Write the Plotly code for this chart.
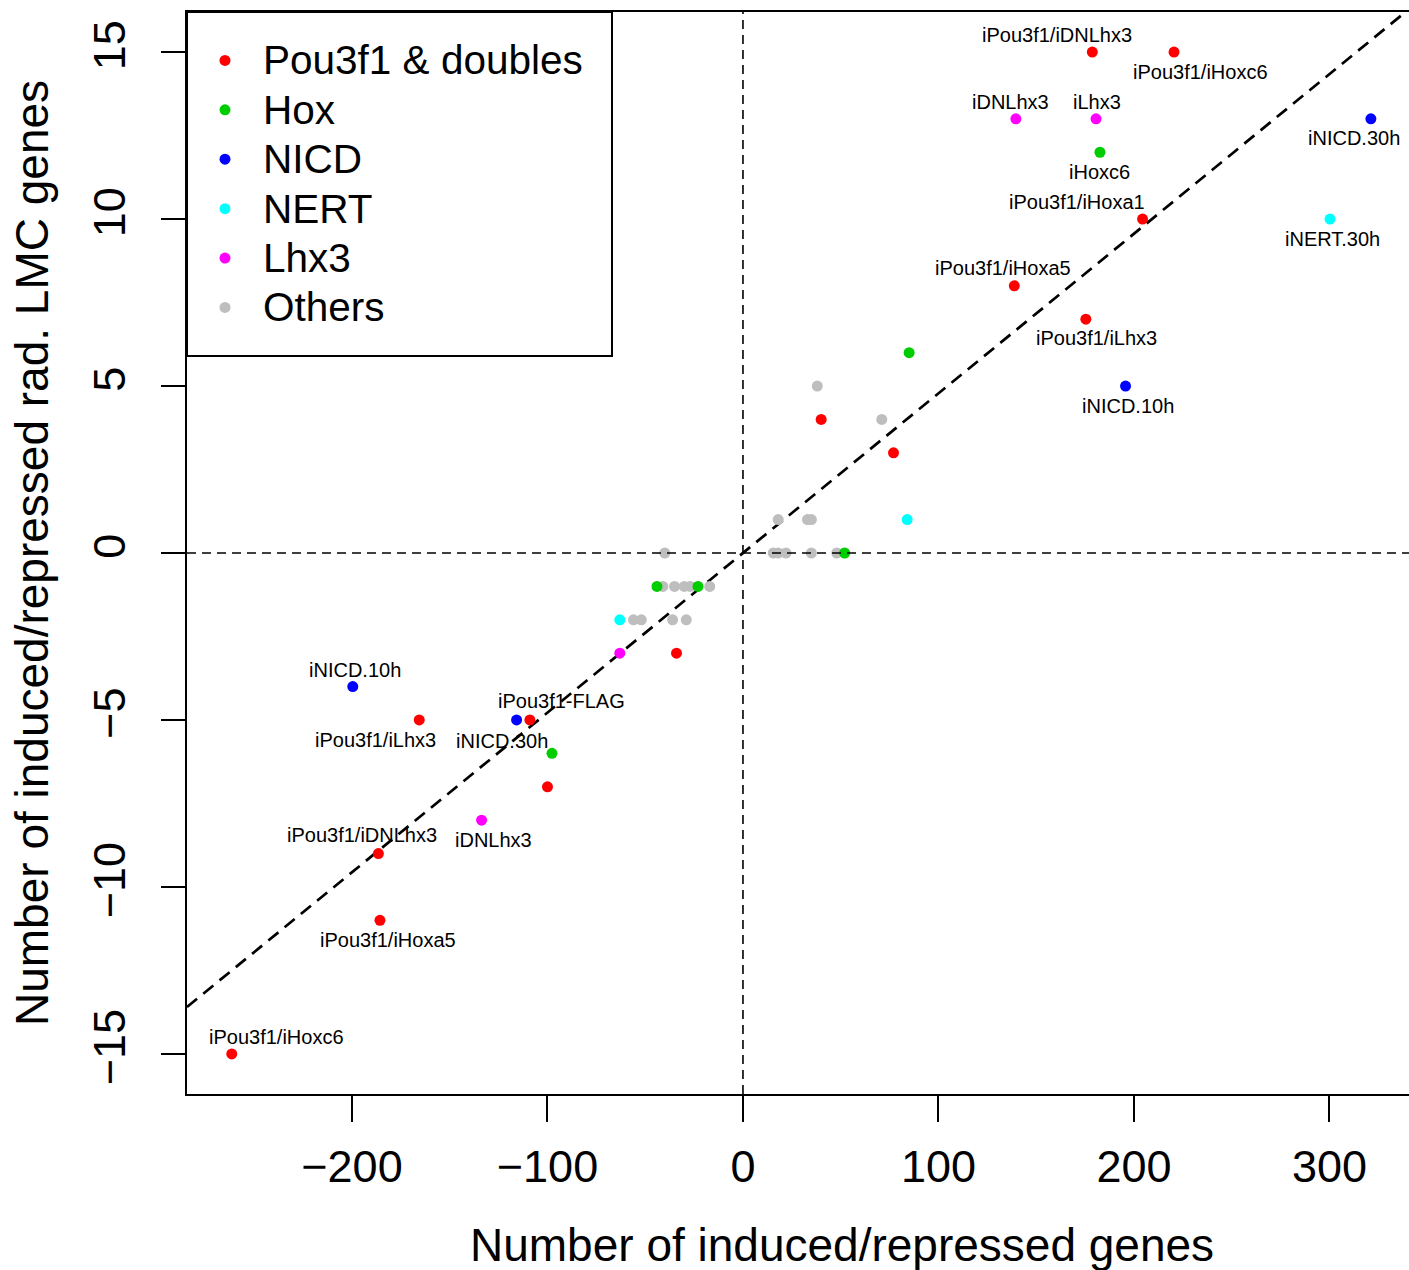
import plotly.graph_objects as go

# ---- data ----
pou_x = [220.5, 178.7, 204.4, 138.8, 175.4, 40, 77, -34, -109, -165.6, -100, -186.5, -185.7, -261.5]
pou_y = [15, 15, 10, 8, 7, 4, 3, -3, -5, -5, -7, -9, -11, -15]
hox_x = [182.6, 85, 52, -44, -23, -97.7]
hox_y = [12, 6, 0, -1, -1, -6]
nicd_x = [321.2, 195.7, -199.6, -115.8]
nicd_y = [13, 5, -4, -5]
nert_x = [300.3, 84, -63]
nert_y = [10, 1, -2]
lhx_x = [139.6, 180.6, -63, -133.7]
lhx_y = [13, 13, -3, -8]
oth_x = [38, 71, 18, 33, 35, -40, 15.5, 18, 22, 35, 48, -41, -35, -30, -27, -17, -56, -52, -36, -29]
oth_y = [5, 4, 1, 1, 1, 0, 0, 0, 0, 0, 0, -1, -1, -1, -1, -1, -2, -2, -2, -2]

label_text = ["iPou3f1/iDNLhx3", "iPou3f1/iHoxc6", "iDNLhx3", "iLhx3", "iHoxc6", "iNICD.30h",
              "iPou3f1/iHoxa1", "iNERT.30h", "iPou3f1/iHoxa5", "iPou3f1/iLhx3", "iNICD.10h",
              "iPou3f1-FLAG", "iNICD.30h", "iNICD.10h", "iPou3f1/iLhx3", "iPou3f1/iDNLhx3",
              "iPou3f1/iHoxa5", "iDNLhx3", "iPou3f1/iHoxc6"]
label_x = [160.5, 233.8, 136.6, 180.9, 182.6, 312.7, 170.7, 301.8, 133.1, 180.9, 196.8,
           -92.7, -123.4, -198.5, -188.2, -195.0, -181.4, -127.7, -238.5]
label_y = [15.51, 14.41, 13.51, 13.51, 11.42, 12.43, 10.5, 9.4, 8.52, 6.43, 4.4,
           -4.43, -5.62, -3.5, -5.6, -8.44, -11.59, -8.59, -14.48]

fit_slope = 0.0478
x_range = [-284.4, 340.7]
y_range = [-16.2, 16.2]
x_ticks = [-200, -100, 0, 100, 200, 300]
y_ticks = [-15, -10, -5, 0, 5, 10, 15]

groups = [
    ("Pou3f1 & doubles", pou_x, pou_y, "#FF0000", 1),
    ("Hox", hox_x, hox_y, "#00CD00", 2),
    ("NICD", nicd_x, nicd_y, "#0000FF", 3),
    ("NERT", nert_x, nert_y, "#00FFFF", 4),
    ("Lhx3", lhx_x, lhx_y, "#FF00FF", 5),
    ("Others", oth_x, oth_y, "#BEBEBE", 6),
]

FONT = "Liberation Sans, Arial, Helvetica, sans-serif"
W, H = 1409, 1270
ML, MT, MB = 187, 12, 176
PW, PH = W - ML, H - MT - MB


def px_x(p):  # page pixel -> paper x
    return (p - ML) / PW


def px_y(p):  # page pixel -> paper y
    return (H - MB - p) / PH


fig = go.Figure()

# reference lines
fig.add_trace(go.Scatter(x=x_range, y=[fit_slope * v for v in x_range], mode="lines",
                         line=dict(color="black", width=2.7, dash="13px,8px"),
                         showlegend=False, hoverinfo="skip"))
fig.add_shape(type="line", xref="x", yref="paper", x0=0, x1=0, y0=0, y1=1,
              line=dict(color="black", width=1.6, dash="9px,6px"))
fig.add_shape(type="line", xref="paper", yref="y", x0=0, x1=1, y0=0, y1=0,
              line=dict(color="black", width=1.6, dash="9px,6px"))

# Others drawn first (underneath), legend order via legendrank
for name, xs, ys, col, rank in reversed(groups):
    fig.add_trace(go.Scatter(x=xs, y=ys, mode="markers",
                             name='<span style="font-size:40.5px">' + name.replace("&", "&amp;") + "</span>",
                             legendrank=rank,
                             marker=dict(color=col, size=11, line=dict(width=0))))

for t, x, y in zip(label_text, label_x, label_y):
    fig.add_annotation(x=x, y=y, xref="x", yref="y", text=t, showarrow=False,
                       xanchor="center", yanchor="middle",
                       font=dict(family=FONT, size=20, color="black"))

# axis titles
fig.add_annotation(x=px_x(842), y=px_y(1245), xref="paper", yref="paper",
                   text="Number of induced/repressed genes", showarrow=False,
                   xanchor="center", yanchor="middle",
                   font=dict(family=FONT, size=46, color="black"))
fig.add_annotation(x=px_x(32), y=0.5, xref="paper", yref="paper",
                   text="Number of induced/repressed rad. LMC genes", showarrow=False,
                   textangle=-90, xanchor="center", yanchor="middle",
                   font=dict(family=FONT, size=46, color="black"))

# legend box
fig.add_shape(type="rect", xref="paper", yref="paper", x0=0, x1=px_x(612),
              y0=px_y(356), y1=1, line=dict(color="black", width=2),
              fillcolor="white", layer="below")

fig.update_layout(
    width=W, height=H,
    margin=dict(l=ML, r=0, t=MT, b=MB),
    paper_bgcolor="white", plot_bgcolor="white",
    font=dict(family=FONT, color="black"),
    showlegend=True,
    legend=dict(x=0, y=px_y(30.7), xanchor="left", yanchor="top",
                bgcolor="rgba(0,0,0,0)", borderwidth=0, itemwidth=66,
                font=dict(family=FONT, size=35.7, color="black")),
    xaxis=dict(range=x_range, tickvals=x_ticks, showgrid=False, zeroline=False,
               showline=True, linecolor="black", linewidth=2, mirror=True,
               ticks="outside", ticklen=26, tickwidth=1.5, tickcolor="black",
               tickfont=dict(family=FONT, size=45, color="black"), ticklabelstandoff=6),
    yaxis=dict(range=y_range, tickvals=y_ticks, showgrid=False, zeroline=False,
               showline=True, linecolor="black", linewidth=2, mirror=False,
               ticks="outside", ticklen=24, tickwidth=1.5, tickcolor="black", tickangle=-90,
               tickfont=dict(family=FONT, size=45, color="black"), ticklabelstandoff=18),
)

# remove the browser's default 8px body margin so the figure fills the window exactly
fig.write_html("out.html", config={"displayModeBar": False},
               post_script="document.body.style.margin='0';document.body.style.overflow='hidden';")
